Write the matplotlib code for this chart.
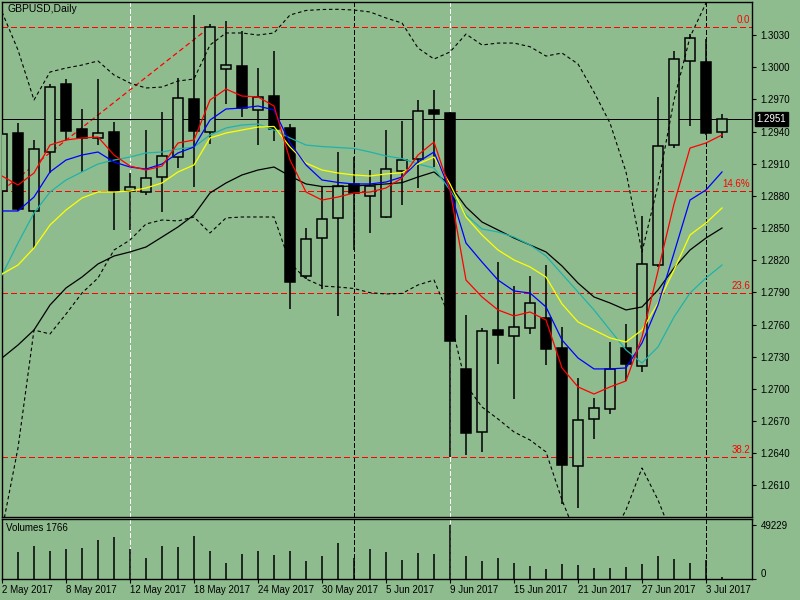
import matplotlib
matplotlib.use('Agg')
import matplotlib.pyplot as plt
from matplotlib.transforms import blended_transform_factory

plt.rcParams['font.family'] = ['Liberation Sans', 'DejaVu Sans']
plt.rcParams['lines.scale_dashes'] = False

BG = '#8fbc8f'

# daily candles, 2 May .. 4 Jul 2017
opens = [1.28845, 1.29386, 1.28662, 1.29212, 1.29843, 1.29423, 1.29337, 1.29393, 1.28845, 1.28833,
         1.28973, 1.29160, 1.29703, 1.29398, 1.29980, 1.30011, 1.29601, 1.29731, 1.29430, 1.28055,
         1.28410, 1.28591, 1.28911, 1.28801, 1.28606, 1.29035, 1.29141, 1.29601, 1.29570, 1.27185,
         1.26601, 1.27549, 1.27496, 1.27565, 1.27664, 1.27384, 1.26284, 1.26716, 1.26810, 1.27378,
         1.27216, 1.28155, 1.29271, 1.30060, 1.30048, 1.29398]
highs = [1.29500, 1.29479, 1.29321, 1.29843, 1.29890, 1.29610, 1.29890, 1.29486, 1.29010, 1.29414,
         1.29579, 1.29896, 1.30487, 1.30403, 1.30433, 1.30340, 1.29990, 1.30151, 1.29470, 1.28497,
         1.28885, 1.29206, 1.29160, 1.29041, 1.29414, 1.29498, 1.29694, 1.29787, 1.29580, 1.27689,
         1.27565, 1.28180, 1.27959, 1.28055, 1.28155, 1.27580, 1.27104, 1.26918, 1.27440, 1.27605,
         1.28612, 1.29725, 1.30154, 1.30307, 1.30260, 1.29563]
lows = [1.28700, 1.28660, 1.28311, 1.29010, 1.29320, 1.29025, 1.29274, 1.28482, 1.28480, 1.28808,
        1.28652, 1.29057, 1.28885, 1.29283, 1.29657, 1.29533, 1.29274, 1.29314, 1.27745, 1.28022,
        1.27931, 1.27683, 1.28295, 1.28457, 1.28591, 1.28715, 1.28870, 1.29072, 1.26362, 1.26386,
        1.26414, 1.27232, 1.26906, 1.27510, 1.27222, 1.25926, 1.25886, 1.26533, 1.26763, 1.27073,
        1.27161, 1.28140, 1.29243, 1.29454, 1.29370, 1.29337]
closes = [1.29377, 1.28677, 1.29234, 1.29812, 1.29408, 1.29342, 1.29383, 1.28845, 1.28885, 1.28964,
          1.29172, 1.29710, 1.29408, 1.30372, 1.30017, 1.29617, 1.29719, 1.29420, 1.27999, 1.28395,
          1.28581, 1.28895, 1.28824, 1.28895, 1.29048, 1.29132, 1.29591, 1.29560, 1.27449, 1.26591,
          1.27541, 1.27503, 1.27574, 1.27804, 1.27369, 1.26291, 1.26710, 1.26819, 1.27185, 1.27229,
          1.28162, 1.29265, 1.30073, 1.30269, 1.29389, 1.29514]
volumes = [26400, 24600, 30100, 25500, 27300, 28300, 35600, 38300, 27300, 19100,
           30100, 29200, 39200, 25500, 14600, 22800, 25500, 21900, 25500, 16400,
           21000, 32800, 19100, 27300, 24600, 17300, 23700, 22800, 49229, 21000,
           16400, 19100, 14600, 11900, 9100, 13700, 12800, 10000, 10000, 10900,
           13700, 21000, 18200, 14600, 17300, 1766]

# moving averages
ma_red = [1.28985, 1.28901, 1.29013, 1.29274, 1.29321, 1.29340, 1.29349, 1.29181, 1.29078, 1.29041,
          1.29078, 1.29293, 1.29321, 1.29694, 1.29796, 1.29731, 1.29722, 1.29638, 1.29134, 1.28836,
          1.28761, 1.28789, 1.28827, 1.28836, 1.28873, 1.28967, 1.29181, 1.29302, 1.28855, 1.28015,
          1.27857, 1.27736, 1.27680, 1.27717, 1.27642, 1.27195, 1.27018, 1.26952, 1.27018, 1.27074,
          1.27484, 1.28099, 1.28724, 1.29246, 1.29293, 1.29368]
ma_blue = [1.28659, 1.28659, 1.28789, 1.29023, 1.29134, 1.29181, 1.29209, 1.29116, 1.29069, 1.29050,
           1.29097, 1.29200, 1.29256, 1.29507, 1.29610, 1.29619, 1.29638, 1.29601, 1.29293, 1.29088,
           1.28948, 1.28925, 1.28911, 1.28911, 1.28929, 1.28976, 1.29116, 1.29209, 1.28855, 1.28360,
           1.28183, 1.28015, 1.27913, 1.27894, 1.27764, 1.27456, 1.27288, 1.27186, 1.27186, 1.27195,
           1.27428, 1.27782, 1.28267, 1.28761, 1.28855, 1.29023]
ma_yellow = [1.28071, 1.28155, 1.28314, 1.28528, 1.28668, 1.28780, 1.28836, 1.28836, 1.28845, 1.28873,
             1.28920, 1.29023, 1.29088, 1.29340, 1.29386, 1.29414, 1.29442, 1.29447, 1.29256, 1.29106,
             1.29041, 1.29013, 1.28995, 1.28985, 1.29004, 1.29016, 1.29097, 1.29162, 1.28911, 1.28603,
             1.28435, 1.28295, 1.28202, 1.28137, 1.28043, 1.27792, 1.27624, 1.27549, 1.27475, 1.27437,
             1.27549, 1.27801, 1.28109, 1.28435, 1.28547, 1.28687]
ma_teal = [1.28062, 1.28360, 1.28640, 1.28836, 1.28948, 1.29023, 1.29097, 1.29134, 1.29162, 1.29200,
           1.29209, 1.29237, 1.29256, 1.29368, 1.29433, 1.29461, 1.29470, 1.29414, 1.29340, 1.29274,
           1.29260, 1.29251, 1.29242, 1.29209, 1.29172, 1.29148, 1.29097, 1.29060, 1.28855, 1.28622,
           1.28491, 1.28463, 1.28416, 1.28342, 1.28239, 1.28071, 1.27904, 1.27736, 1.27549, 1.27363,
           1.27241, 1.27391, 1.27670, 1.27894, 1.28034, 1.28155]
ma_black = [1.27288, 1.27409, 1.27549, 1.27782, 1.27941, 1.28043, 1.28165, 1.28239, 1.28277, 1.28323,
            1.28416, 1.28510, 1.28622, 1.28827, 1.28920, 1.28995, 1.29041, 1.29069, 1.28985, 1.28911,
            1.28887, 1.28887, 1.28892, 1.28901, 1.28911, 1.28923, 1.28976, 1.29023, 1.28901, 1.28696,
            1.28556, 1.28482, 1.28407, 1.28342, 1.28277, 1.28146, 1.27987, 1.27857, 1.27801, 1.27736,
            1.27764, 1.27922, 1.28127, 1.28295, 1.28407, 1.28500]
bb_upper = [1.30515, 1.30160, 1.29694, 1.29955, 1.29992, 1.30020, 1.30058, 1.29927, 1.29852, 1.29806,
            1.29815, 1.29871, 1.29890, 1.30207, 1.30319, 1.30319, 1.30300, 1.30319, 1.30487, 1.30529,
            1.30538, 1.30540, 1.30533, 1.30515, 1.30459, 1.30412, 1.30179, 1.30076, 1.30142, 1.30309,
            1.30207, 1.30225, 1.30225, 1.30191, 1.30104, 1.30132, 1.30030, 1.29768, 1.29479, 1.29023,
            1.28277, 1.28901, 1.29694, 1.30281, 1.30598, 1.30860]
bb_lower = [1.25684, 1.26449, 1.27549, 1.27512, 1.27698, 1.27894, 1.28034, 1.28295, 1.28388, 1.28538,
            1.28575, 1.28566, 1.28603, 1.28454, 1.28594, 1.28603, 1.28603, 1.28603, 1.28174, 1.28025,
            1.27959, 1.27950, 1.27936, 1.27897, 1.27885, 1.27890, 1.27969, 1.28015, 1.27661, 1.27036,
            1.26831, 1.26719, 1.26598, 1.26523, 1.26412, 1.25964, 1.25591, 1.25451, 1.25591, 1.25871,
            1.26262, 1.25964, 1.25591, 1.25451, 1.25404, 1.25404]

fib_levels = [1.30375, 1.28841, 1.27891, 1.26362]
fib_labels = ['0.0', '14.6%', '23.6', '38.2']
fib_trend_x = [0, 13]
fib_trend_y = [1.28850, 1.30375]

vline_idx = [8, 22, 28, 44]
vline_col = ['white', 'black', 'white', 'black']

date_idx = [0, 4, 8, 12, 16, 20, 24, 28, 32, 36, 40, 44]
date_labels = ['2 May 2017', '8 May 2017', '12 May 2017', '18 May 2017', '24 May 2017',
               '30 May 2017', '5 Jun 2017', '9 Jun 2017', '15 Jun 2017', '21 Jun 2017',
               '27 Jun 2017', '3 Jul 2017']
price_ticks = [1.2610, 1.2640, 1.2670, 1.2700, 1.2730, 1.2760, 1.2790, 1.2820, 1.2850,
               1.2880, 1.2910, 1.2940, 1.2970, 1.3000, 1.3030]

xs = list(range(len(opens)))
FIB = 'red'
PX = 0.72  # one pixel at 100 dpi

fig = plt.figure(figsize=(8, 6), dpi=100, facecolor=BG)
ax = fig.add_axes([2 / 800, 83 / 600, 750 / 800, 515 / 600], facecolor=BG)
axv = fig.add_axes([2 / 800, 21 / 600, 750 / 800, 60 / 600], facecolor=BG)

for a in (ax, axv):
    a.set_xlim(0, 46.875)
    for s in a.spines.values():
        s.set_color('black')
        s.set_linewidth(1.0)
    for i, c in zip(vline_idx, vline_col):
        a.axvline(i, color=c, lw=PX, ls=(0, (3, 1.8)), zorder=1, antialiased=False)

ax.set_ylim(1.25805, 1.30608)

# fibo + current price
for lvl, txt in zip(fib_levels, fib_labels):
    ax.axhline(lvl, color=FIB, lw=PX, ls=(0, (3.6, 2.2)), zorder=1.5, antialiased=False)
    ax.annotate(txt, (46.75, lvl), xytext=(0, 1.5), textcoords='offset points',
                ha='right', va='bottom', color=FIB, fontsize=7)
ax.plot(fib_trend_x, fib_trend_y, color=FIB, lw=0.9, ls=(0, (3.6, 2.2)), zorder=1.5)
ax.axhline(closes[-1], color='black', lw=PX, zorder=1.5, antialiased=False)

# candles
for i in xs:
    ax.vlines(i, lows[i], highs[i], color='black', lw=1.1, zorder=2)
    bull = closes[i] >= opens[i]
    ax.bar(i, abs(closes[i] - opens[i]), bottom=min(opens[i], closes[i]), width=0.66,
           facecolor=BG if bull else 'black', edgecolor='black', lw=1.1, zorder=3)

# indicators
dash = (0, (2.5, 2.0))
ax.plot(xs, bb_upper, color='black', lw=0.8, ls=dash, zorder=4)
ax.plot(xs, bb_lower, color='black', lw=0.8, ls=dash, zorder=4)
ax.plot(xs, ma_black, color='black', lw=0.9, zorder=5)
ax.plot(xs, ma_teal, color='#20b2aa', lw=0.9, zorder=5)
ax.plot(xs, ma_yellow, color='yellow', lw=0.9, zorder=5)
ax.plot(xs, ma_blue, color='blue', lw=0.9, zorder=5)
ax.plot(xs, ma_red, color='red', lw=0.9, zorder=5)

ax.set_xticks([])
ax.yaxis.tick_right()
ax.set_yticks(price_ticks)
ax.set_yticklabels([f'{p:.4f}' for p in price_ticks])
ax.tick_params(axis='y', direction='out', length=3, width=0.8, pad=3, labelsize=7, colors='black')

trans = blended_transform_factory(ax.transAxes, ax.transData)
ax.text(1.006, closes[-1], f'{closes[-1]:.4f}', transform=trans, color='white', fontsize=7,
        va='center', ha='left',
        bbox=dict(boxstyle='square,pad=0.2', facecolor='black', edgecolor='black'))
ax.text(0.0067, 0.986, 'GBPUSD,Daily', transform=ax.transAxes, fontsize=7.5,
        va='center', ha='left', color='black')

# volumes
axv.vlines(xs, 0, volumes, color='black', lw=1.1, zorder=2)
axv.set_ylim(0, 54699)
axv.yaxis.tick_right()
axv.set_yticks([0, 49229])
axv.set_yticklabels(['0', '49229'])
axv.get_yticklabels()[0].set_va('bottom')
axv.tick_params(axis='y', direction='out', length=3, width=0.8, pad=3, labelsize=7)
axv.set_xticks(date_idx)
axv.set_xticklabels(date_labels)
for lbl in axv.get_xticklabels():
    lbl.set_ha('left')
axv.tick_params(axis='x', direction='out', length=3, width=0.8, pad=1.5, labelsize=7)
axv.text(0.0053, 0.85, f'Volumes {volumes[-1]}', transform=axv.transAxes, fontsize=7,
         va='center', ha='left', color='black')

fig.savefig('out.png', dpi=100, facecolor=BG)
